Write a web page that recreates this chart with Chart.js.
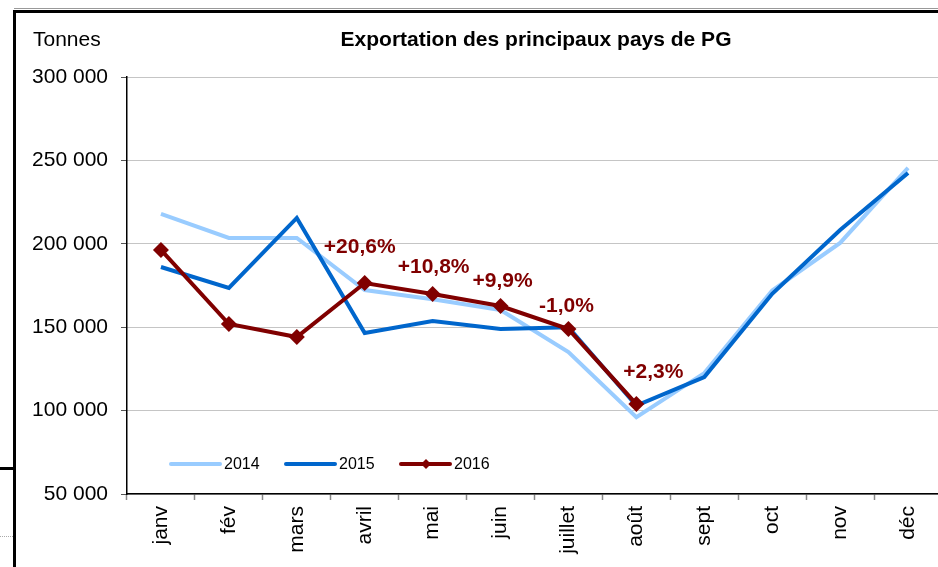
<!DOCTYPE html>
<html>
<head>
<meta charset="utf-8">
<script src="https://cdn.jsdelivr.net/npm/chart.js@4.4.1/dist/chart.umd.min.js"></script>
<style>
  html, body { margin: 0; padding: 0; background: #fff; overflow: hidden; }
  #wrap { position: relative; width: 950px; height: 567px; }
</style>
</head>
<body>
<div id="wrap"><canvas id="chart" width="950" height="567"></canvas></div>
<script>
// data
const months = ["janv", "fév", "mars", "avril", "mai", "juin", "juillet", "août", "sept", "oct", "nov", "déc"];
const exp2014 = [217900, 203500, 203500, 172300, 166800, 160300, 135100, 96000, 122500, 172000, 200500, 245500];
const exp2015 = [186100, 173500, 215500, 146500, 153700, 148900, 150000, 103000, 120100, 170000, 208300, 242500];
const exp2016 = [196300, 151900, 144100, 176500, 169900, 162700, 148900, 103900, null, null, null, null];
const growthLabels = [null, null, null, "+20,6%", "+10,8%", "+9,9%", "-1,0%", "+2,3%", null, null, null, null];
const yTicks = [50000, 100000, 150000, 200000, 250000, 300000];

const FONT = "'Liberation Sans', Arial, sans-serif";
const LIGHT = "#99CCFF", BLUE = "#0066CC", RED = "#800000";

const fmt = v => String(v).replace(/\B(?=(\d{3})+(?!\d))/g, " ");

// frame, title, unit label, growth labels and legend
const decor = {
    id: "decor",
    beforeDraw(chart) {
        const ctx = chart.ctx;
        ctx.save();
        ctx.fillStyle = "#fff";
        ctx.fillRect(0, 0, chart.width, chart.height);
        ctx.strokeStyle = "#999";
        ctx.lineWidth = 1;
        ctx.beginPath(); ctx.moveTo(14, 8.5); ctx.lineTo(chart.width, 8.5); ctx.stroke();
        ctx.fillStyle = "#000";
        ctx.fillRect(13, 10, 3, chart.height - 10);
        ctx.fillRect(13, 10, chart.width, 3);
        ctx.fillRect(0, 467, 13, 3);
        ctx.strokeStyle = "#aaa";
        ctx.setLineDash([1, 1]);
        ctx.beginPath(); ctx.moveTo(0, 536.5); ctx.lineTo(13, 536.5); ctx.stroke();
        ctx.setLineDash([]);
        ctx.textBaseline = "middle";
        ctx.font = "21px " + FONT;
        ctx.textAlign = "left";
        ctx.fillText("Tonnes", 33, 40);
        ctx.font = "bold 21px " + FONT;
        ctx.textAlign = "center";
        ctx.fillText("Exportation des principaux pays de PG", 536, 40);
        ctx.restore();
    },
    afterDatasetsDraw(chart) {
        const ctx = chart.ctx;
        const meta = chart.getDatasetMeta(0);
        const shifts = { 3: [-5, -36], 4: [1, -27], 5: [2, -25], 6: [-2, -23], 7: [17, -32] };
        ctx.save();
        ctx.font = "bold 21px " + FONT;
        ctx.fillStyle = RED;
        ctx.textAlign = "center";
        ctx.textBaseline = "middle";
        growthLabels.forEach((t, i) => {
            if (!t) return;
            const p = meta.data[i];
            const s = shifts[i] || [0, -28];
            ctx.fillText(t, p.x + s[0], p.y + s[1]);
        });
        // legend inside the plot
        const area = chart.chartArea;
        const y = 464;
        const items = [["2014", LIGHT, false], ["2015", BLUE, false], ["2016", RED, true]];
        let x = area.left + 44;
        ctx.font = "16px " + FONT;
        ctx.fillStyle = "#000";
        ctx.textAlign = "left";
        items.forEach(([lbl, col, mark]) => {
            ctx.strokeStyle = col;
            ctx.lineWidth = 4;
            ctx.lineCap = "round";
            ctx.beginPath(); ctx.moveTo(x, y); ctx.lineTo(x + 49, y); ctx.stroke();
            if (mark) {
                ctx.fillStyle = col;
                ctx.beginPath();
                ctx.moveTo(x + 25, y - 5); ctx.lineTo(x + 30, y); ctx.lineTo(x + 25, y + 5); ctx.lineTo(x + 20, y);
                ctx.closePath(); ctx.fill();
                ctx.fillStyle = "#000";
            }
            ctx.fillText(lbl, x + 53, y + 1);
            x += 115;
        });
        ctx.restore();
    }
};

new Chart(document.getElementById("chart"), {
    type: "line",
    data: {
        labels: months,
        datasets: [
            {
                label: "2016", data: exp2016, order: 1,
                borderColor: RED, backgroundColor: RED, borderWidth: 4,
                pointStyle: "rectRot", pointRadius: 8, pointHoverRadius: 8,
                pointBackgroundColor: RED, pointBorderColor: RED, pointBorderWidth: 0,
                tension: 0, spanGaps: false
            },
            {
                label: "2015", data: exp2015, order: 2,
                borderColor: BLUE, backgroundColor: BLUE, borderWidth: 4,
                pointRadius: 0, tension: 0
            },
            {
                label: "2014", data: exp2014, order: 3,
                borderColor: LIGHT, backgroundColor: LIGHT, borderWidth: 4,
                pointRadius: 0, tension: 0
            }
        ]
    },
    options: {
        responsive: false,
        animation: false,
        layout: { padding: { top: 77, right: 3, left: 0, bottom: 0 } },
        plugins: { legend: { display: false }, tooltip: { enabled: false }, title: { display: false } },
        scales: {
            x: {
                offset: true,
                grid: { offset: true, drawOnChartArea: false, drawTicks: true, tickLength: 6, tickColor: "#888", tickWidth: 1.5 },
                border: { color: "#000", width: 1.5 },
                ticks: { color: "#000", font: { family: FONT, size: 21 }, minRotation: 90, maxRotation: 90, padding: 6, autoSkip: false },
                afterFit(s) { s.height = 73; }
            },
            y: {
                min: 50000, max: 300000,
                afterBuildTicks(s) { s.ticks = yTicks.map(v => ({ value: v })); },
                grid: { color: "#8a8a8a", lineWidth: 1, tickColor: "#555", tickLength: 6, tickBorderDash: [] },
                border: { color: "#000", width: 1.5, dash: [1, 1] },
                ticks: { color: "#000", font: { family: FONT, size: 21 }, padding: 13, callback: v => fmt(v) },
                afterFit(s) { s.width = 127; }
            }
        }
    },
    plugins: [decor]
});
</script>
</body>
</html>
